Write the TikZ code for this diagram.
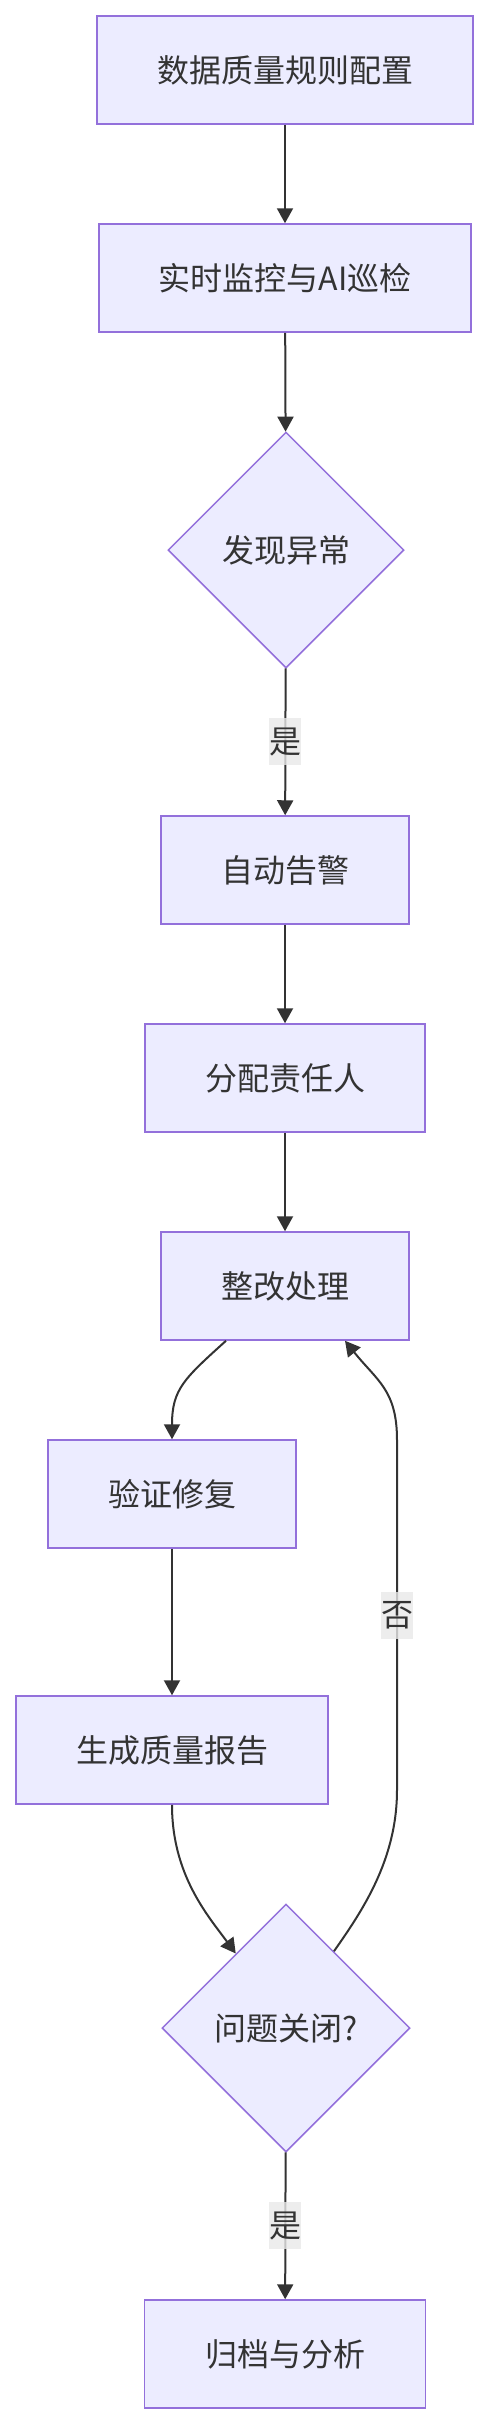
\documentclass[tikz,border=0pt]{standalone}
\usepackage{fontspec}
\setmainfont{Noto Sans CJK SC}
\usetikzlibrary{arrows.meta,positioning,shapes.geometric,calc}
\definecolor{lavender}{HTML}{ECECFF}
\definecolor{violet}{HTML}{9370DB}
\definecolor{ink}{HTML}{333333}
\definecolor{labelgray}{HTML}{E8E8E8}

\begin{document}
\begin{tikzpicture}[
    x=1pt, y=1pt,
    every node/.style={font=\fontsize{32}{37}\selectfont, text=ink},
    box/.style={rectangle, draw=violet, line width=1.5pt, fill=lavender,
        minimum height=108pt, align=center},
    decision/.style={diamond, aspect=1, draw=violet, line width=1.5pt, fill=lavender,
        inner sep=0pt, align=center},
    flow/.style={-{Triangle[length=15pt, width=16pt]}, line width=2pt, draw=ink},
    lbl/.style={fill=labelgray, fill opacity=0.8, text opacity=1, inner sep=0pt,
        minimum width=32pt, minimum height=47pt},
]
\useasboundingbox (0,0) rectangle (489,-2423);

% Main chain
\node[box, minimum width=376pt] (rules) at (285,-70) {数据质量规则配置};
\node[box, minimum width=372pt] (monitor) at (285,-278) {实时监控与AI巡检};
\node[decision, minimum size=236pt] (anomaly) at (286,-550) {发现异常};
\node[box, minimum width=248pt] (alert) at (285,-870) {自动告警};
\node[box, minimum width=280pt] (assign) at (285,-1078) {分配责任人};
\node[box, minimum width=248pt] (fix) at (285,-1286) {整改处理};
\node[box, minimum width=248pt] (verify) at (172,-1494) {验证修复};
\node[box, minimum width=312pt] (report) at (172,-1750) {生成质量报告};
\node[decision, minimum size=248pt] (closed) at (286,-2028) {问题关闭?};
\node[box, minimum width=281pt] (archive) at (285,-2354) {归档与分析};

% Loop-back bends
\coordinate (loopbot) at (397,-1790);
\coordinate (looptop) at (397,-1440);

% Straight arrows
\draw[flow] (rules) -- (monitor);
\draw[flow] (monitor) -- (anomaly);
\draw[flow] (anomaly) -- node[lbl] {是} (alert);
\draw[flow] (alert) -- (assign);
\draw[flow] (assign) -- (fix);
\draw[flow] (verify) -- (report);
\draw[flow] (closed) -- node[lbl] {是} (archive);

% Curved arrows
\draw[flow] ($(fix.south)+(-59,0)$) .. controls +(-42,-38) and +(0,50) .. (verify.north);
\draw[flow] (report.south) .. controls +(0,-70) and +(-28,38) .. (closed.124);
\draw[flow] (closed.58) .. controls +(28,40) and +(0,-70) .. (loopbot)
    -- node[lbl] {否} (looptop)
    .. controls +(0,50) and +(32,-40) .. ($(fix.south)+(60,0)$);
\end{tikzpicture}
\end{document}
